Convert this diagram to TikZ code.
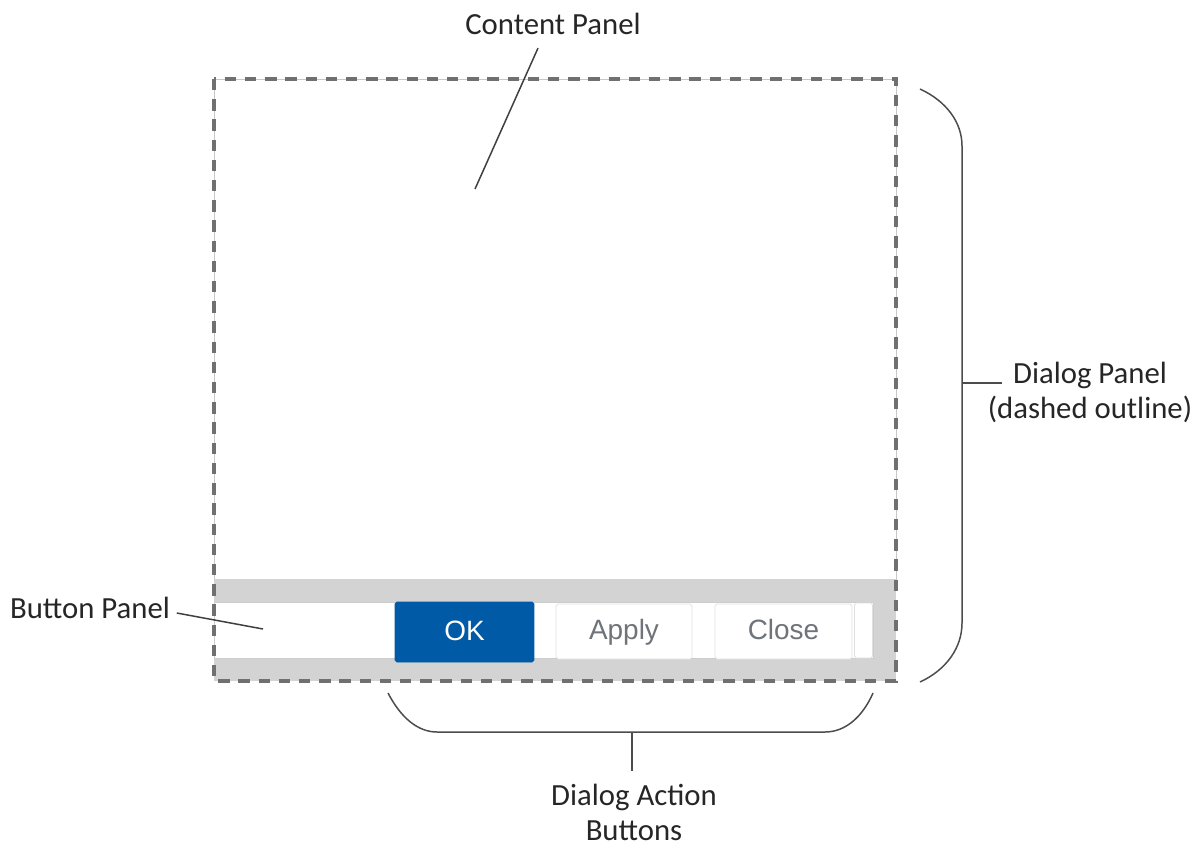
\documentclass[tikz,border=0pt]{standalone}
\usepackage{fontspec}
\setmainfont{Carlito}
\newfontfamily\btnfont{Liberation Sans}
\usetikzlibrary{positioning, calc}
\definecolor{okblue}{RGB}{0, 90, 166}
\definecolor{panelgray}{RGB}{211, 211, 211}
\definecolor{edgegray}{RGB}{112, 112, 112}
\definecolor{btngray}{RGB}{110, 116, 122}

\begin{document}
\begin{tikzpicture}[x=0.02cm, y=-0.02cm,
    every node/.style={font=\fontsize{17.5}{20}\selectfont, align=center, text=black!85, inner sep=2pt},
    leader/.style={draw=black!75, line width=0.85pt},
    brace/.style={draw=black!70, line width=0.85pt},
    btnbox/.style={draw=black!12, fill=white, rounded corners=1pt, minimum height=1.1cm, minimum width=2.72cm,
      font=\btnfont\fontsize{15.9}{18}\selectfont, text height=0.95em, text depth=0pt, text=btngray},
    okbox/.style={btnbox, draw=okblue, fill=okblue, text=white, minimum height=1.2cm, minimum width=2.78cm},
    outline/.style={draw=edgegray, line width=1.9pt, dash pattern=on 6.5pt off 5pt}
  ]
  \useasboundingbox (0,0) rectangle (1202,848);

  % panels
  \draw[draw=black!22, fill=white] (214,79) rectangle (896,579);
  \fill[panelgray] (214,579) rectangle (896,681);
  \draw[draw=black!20, fill=white] (214,602) rectangle (873,658);

  \node[okbox] (ok) at (464.5,632) {OK};
  \node[btnbox] (apply) at (624,631.5) {Apply};
  \node[btnbox, minimum width=2.74cm] (close) at (783.5,631.5) {Close};
  \node[btnbox, minimum width=0.36cm] (spare) at (863.5,630.5) {};

  \draw[outline] (214,79) rectangle (896,681);

  % callouts
  \node[anchor=base] (cplabel) at (553,35) {Content Panel};
  \coordinate (cptip) at (475,189);
  \draw[leader] ($(cplabel.south)+(-15,9)$) -- (cptip);

  \node[anchor=base] (bplabel) at (90,618) {Button Panel};
  \coordinate (bptip) at (263,629);
  \draw[leader] ($(bplabel.base east)+(3,-5)$) -- (bptip);

  % braces
  \coordinate (rbtop) at (920,89);
  \coordinate (rbbot) at (920,682);
  \coordinate (rbmid) at (962,383);
  \coordinate (rbend) at (1002,383);
  \draw[brace] (rbtop) .. controls (946,101) and (962,122) .. (962,146) -- (962,623) .. controls (962,648) and (946,670) .. (rbbot);
  \draw[brace] (rbmid) -- (rbend);
  \node[anchor=north] (dplabel) at (1090,358) {Dialog Panel\\(dashed outline)};

  \coordinate (bbleft) at (388,693);
  \coordinate (bbright) at (873,693);
  \coordinate (bbmid) at (632,732);
  \coordinate (bbend) at (632,771);
  \draw[brace] (bbleft) .. controls (401,718) and (418,732) .. (437,732) -- (825,732) .. controls (846,732) and (863,716) .. (bbright);
  \draw[brace] (bbmid) -- (bbend);
  \node[anchor=north] (dablabel) at (634,780) {Dialog Action\\Buttons};
\end{tikzpicture}
\end{document}
